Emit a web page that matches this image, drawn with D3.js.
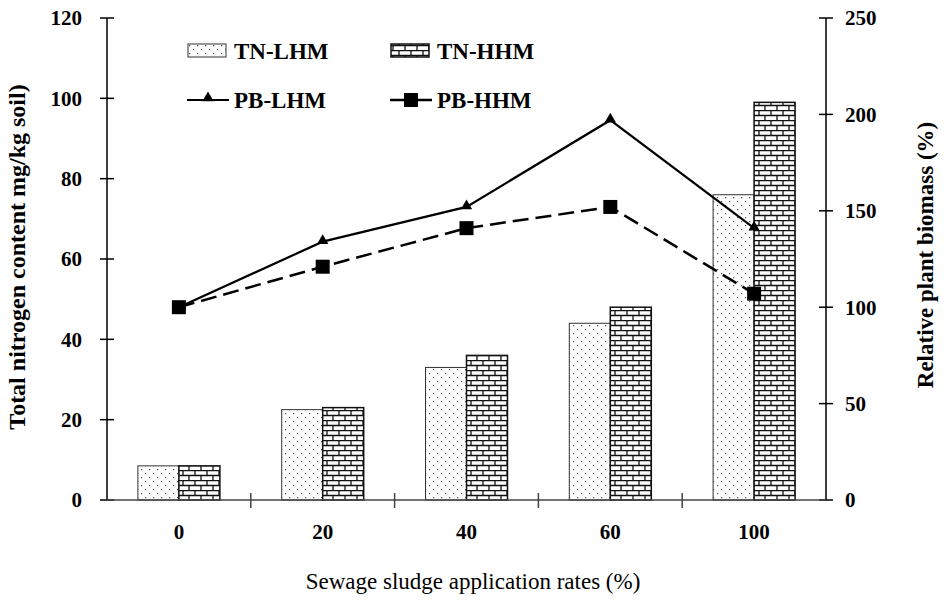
<!DOCTYPE html>
<html><head><meta charset="utf-8">
<script src="https://cdn.jsdelivr.net/npm/d3@7"></script>
</head><body style="margin:0"><svg id="c" width="944" height="601"></svg>
<script>
const categories = ["0","20","40","60","100"];
const tnLHM = [8.5, 22.5, 33, 44, 76];
const tnHHM = [8.5, 23, 36, 48, 99];
const pbLHM = [100, 134, 152, 197, 141];
const pbHHM = [100, 121, 141, 152, 107];
const leftTicks = [0,20,40,60,80,100,120];
const rightTicks = [0,50,100,150,200,250];

const svg = d3.select("#c");
const L = 107, R = 826, T = 18, B = 500;
function txt(sel, size, bold){
  return sel.style("font-family",'"Liberation Serif"').style("font-size",size+"px").style("font-weight",bold?"bold":"normal").attr("fill","#000");
}

const defs = svg.append("defs");
const dots = defs.append("pattern").attr("id","dots").attr("patternUnits","userSpaceOnUse")
  .attr("width",8).attr("height",8);
dots.append("rect").attr("width",8).attr("height",8).attr("fill","#fff");
dots.append("rect").attr("x",1).attr("y",1).attr("width",1.2).attr("height",1.2).attr("fill","#555");
dots.append("rect").attr("x",5).attr("y",5).attr("width",1.2).attr("height",1.2).attr("fill","#555");
const brick = defs.append("pattern").attr("id","brick").attr("patternUnits","userSpaceOnUse")
  .attr("width",12).attr("height",10);
brick.append("rect").attr("width",12).attr("height",10).attr("fill","#fff");
brick.append("path").attr("d","M0,0.5H12M0,5.5H12M3,0V5M9,5V10").attr("stroke","#111").attr("stroke-width",1.3).attr("fill","none");

const x = d3.scaleBand().domain(categories).range([L,R]);
const yL = d3.scaleLinear().domain([0,120]).range([B,T]);
const yR = d3.scaleLinear().domain([0,250]).range([B,T]);
const bw = 41;

const g = svg.append("g");
categories.forEach((c,i)=>{
  const cx = x(c) + x.bandwidth()/2;
  g.append("rect").attr("x",cx-bw).attr("y",yL(tnLHM[i])).attr("width",bw).attr("height",B-yL(tnLHM[i]))
    .attr("fill","url(#dots)").attr("stroke","#333").attr("stroke-width",1);
  g.append("rect").attr("x",cx).attr("y",yL(tnHHM[i])).attr("width",bw).attr("height",B-yL(tnHHM[i]))
    .attr("fill","url(#brick)").attr("stroke","#111").attr("stroke-width",1.5);
});

const gl = svg.append("g");
gl.append("line").attr("x1",L).attr("x2",L).attr("y1",T).attr("y2",B).attr("stroke","#000").attr("stroke-width",1.5);
leftTicks.forEach(v=>{
  gl.append("line").attr("x1",L-7).attr("x2",L+7).attr("y1",yL(v)).attr("y2",yL(v)).attr("stroke","#000").attr("stroke-width",1.5);
  txt(gl.append("text").attr("x",L-25).attr("y",yL(v)).attr("dy","0.35em").attr("text-anchor","end"),21,true).text(v);
});
const gr = svg.append("g");
gr.append("line").attr("x1",R).attr("x2",R).attr("y1",T).attr("y2",B).attr("stroke","#000").attr("stroke-width",1.5);
rightTicks.forEach(v=>{
  gr.append("line").attr("x1",R-7).attr("x2",R+7).attr("y1",yR(v)).attr("y2",yR(v)).attr("stroke","#000").attr("stroke-width",1.5);
  txt(gr.append("text").attr("x",R+19).attr("y",yR(v)).attr("dy","0.35em").attr("text-anchor","start"),21,true).text(v);
});
const gx = svg.append("g");
gx.append("line").attr("x1",L).attr("x2",R).attr("y1",B).attr("y2",B).attr("stroke","#444").attr("stroke-width",1.5);
categories.forEach((c,i)=>{
  if(i>0){
    gx.append("line").attr("x1",x(c)).attr("x2",x(c)).attr("y1",B-7).attr("y2",B+8).attr("stroke","#444").attr("stroke-width",1.5);
  }
  txt(gx.append("text").attr("x",x(c)+x.bandwidth()/2).attr("y",B+32).attr("dy","0.35em").attr("text-anchor","middle"),21,true).text(c);
});

const cxf = (d,i)=> x(categories[i]) + x.bandwidth()/2;
const line = d3.line().x((d,i)=>cxf(d,i)).y(d=>yR(d));
svg.append("path").datum(pbHHM).attr("d",line).attr("fill","none").attr("stroke","#000").attr("stroke-width",2.5).attr("stroke-dasharray","16,7");
svg.append("path").datum(pbLHM).attr("d",line).attr("fill","none").attr("stroke","#000").attr("stroke-width",2.2);
const tri = d3.symbol().type(d3.symbolTriangle).size(55);
pbLHM.forEach((d,i)=>{
  if(i===0) return;
  svg.append("path").attr("d",tri).attr("transform",`translate(${cxf(d,i)},${yR(d)-1})`).attr("fill","#000");
});
pbHHM.forEach((d,i)=>{
  svg.append("rect").attr("x",cxf(d,i)-7).attr("y",yR(d)-7).attr("width",14).attr("height",14).attr("fill","#000");
});

const lg = svg.append("g");
lg.append("rect").attr("x",188).attr("y",44).attr("width",38).attr("height",13).attr("fill","url(#dots)").attr("stroke","#333");
txt(lg.append("text").attr("x",234).attr("y",51).attr("dy","0.35em"),23,true).text("TN-LHM");
lg.append("rect").attr("x",391).attr("y",44).attr("width",38).attr("height",13).attr("fill","url(#brick)").attr("stroke","#111").attr("stroke-width",1.5);
txt(lg.append("text").attr("x",437).attr("y",51).attr("dy","0.35em"),23,true).text("TN-HHM");
lg.append("line").attr("x1",187).attr("x2",229).attr("y1",100).attr("y2",100).attr("stroke","#000").attr("stroke-width",2.2);
lg.append("path").attr("d",tri).attr("transform","translate(208,98)").attr("fill","#000");
txt(lg.append("text").attr("x",234).attr("y",100).attr("dy","0.35em"),23,true).text("PB-LHM");
lg.append("line").attr("x1",390).attr("x2",432).attr("y1",100).attr("y2",100).attr("stroke","#000").attr("stroke-width",2.5);
lg.append("rect").attr("x",404).attr("y",93).attr("width",14).attr("height",14).attr("fill","#000");
txt(lg.append("text").attr("x",437).attr("y",100).attr("dy","0.35em"),23,true).text("PB-HHM");

txt(svg.append("text").attr("transform","translate(25,257) rotate(-90)").attr("text-anchor","middle"),24,true)
  .text("Total nitrogen content mg/kg soil)");
txt(svg.append("text").attr("transform","translate(933,255) rotate(-90)").attr("text-anchor","middle"),23,true)
  .text("Relative plant biomass (%)");
txt(svg.append("text").attr("x",473).attr("y",589).attr("text-anchor","middle"),23,false)
  .text("Sewage sludge application rates (%)");
</script></body></html>
